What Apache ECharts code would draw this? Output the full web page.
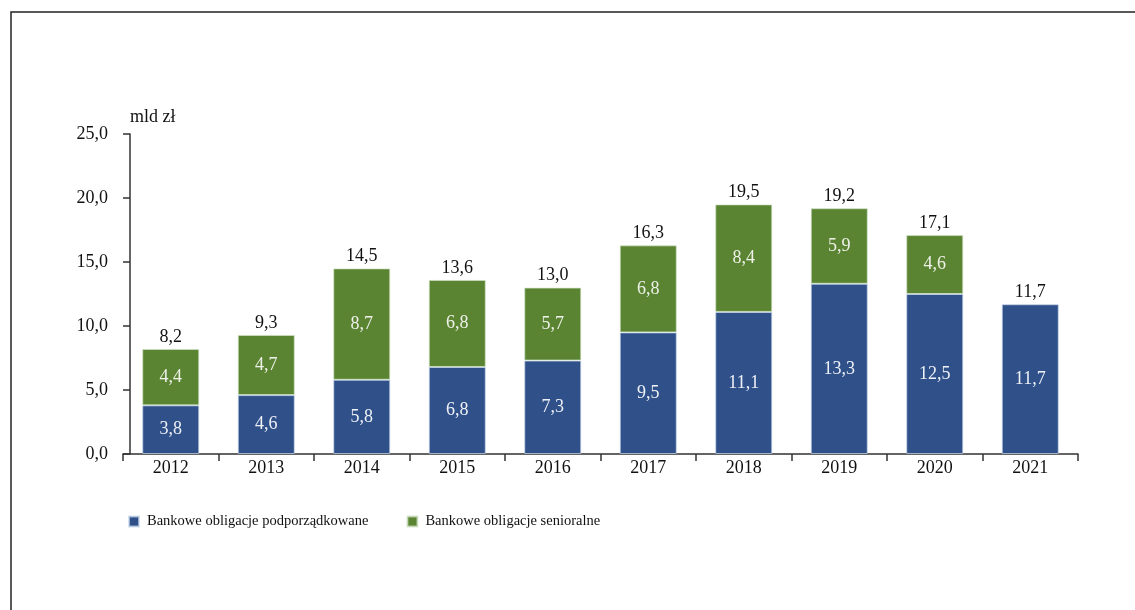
<!DOCTYPE html>
<html>
<head>
<meta charset="utf-8">
<script src="https://cdn.jsdelivr.net/npm/echarts@6/dist/echarts.min.js"></script>
<style>
  html, body { margin: 0; padding: 0; background: #fff; }
  #chart { width: 1135px; height: 610px; }
</style>
</head>
<body>
<div id="chart"></div>
<script>
const years = ['2012','2013','2014','2015','2016','2017','2018','2019','2020','2021'];
const subordinated = [3.8, 4.6, 5.8, 6.8, 7.3, 9.5, 11.1, 13.3, 12.5, 11.7];
const senior = [4.4, 4.7, 8.7, 6.8, 5.7, 6.8, 8.4, 5.9, 4.6, null];
const totals = [8.2, 9.3, 14.5, 13.6, 13.0, 16.3, 19.5, 19.2, 17.1, 11.7];
const yTicks = [0, 5, 10, 15, 20, 25];
const seriesNames = ['Bankowe obligacje podporządkowane', 'Bankowe obligacje senioralne'];
const unitLabel = 'mld zł';

const fmt = v => Number(v).toFixed(1).replace('.', ',');
const FONT = '"Liberation Serif", "DejaVu Serif", serif';

const chart = echarts.init(document.getElementById('chart'), null, { renderer: 'canvas' });
chart.setOption({
  animation: false,
  backgroundColor: '#ffffff',
  textStyle: { fontFamily: FONT },
  graphic: [
    { type: 'polyline', shape: { points: [[11, 610], [11, 12], [1135, 12]] },
      style: { stroke: '#222', lineWidth: 1.5, fill: null } }
  ],
  grid: { left: 123, right: 57, top: 134, bottom: 156, containLabel: false },
  legend: {
    data: seriesNames,
    left: 123, top: 509,
    itemWidth: 10, itemHeight: 10, itemGap: 38,
    icon: 'rect',
    textStyle: { fontFamily: FONT, fontSize: 14.5, color: '#111', padding: [0, 0, 0, 3] },
    selectedMode: false
  },
  xAxis: {
    type: 'category',
    data: years,
    axisLine: { lineStyle: { color: '#333', width: 1.5 } },
    axisTick: { show: true, length: 7, alignWithLabel: false, lineStyle: { color: '#333', width: 1.5 } },
    axisLabel: { color: '#111', fontFamily: FONT, fontSize: 18, margin: 5 }
  },
  yAxis: {
    type: 'value',
    min: yTicks[0], max: yTicks[yTicks.length - 1], interval: 5,
    offset: -7,
    name: unitLabel,
    nameLocation: 'end',
    nameGap: 8,
    nameTextStyle: { color: '#111', fontFamily: FONT, fontSize: 18, align: 'left', padding: [0, 0, 0, 0] },
    splitLine: { show: false },
    axisLine: { show: true, lineStyle: { color: '#333', width: 1.5 } },
    axisTick: { show: true, length: 7, lineStyle: { color: '#333', width: 1.5 } },
    axisLabel: { color: '#111', fontFamily: FONT, fontSize: 18, margin: 22, formatter: v => fmt(v) }
  },
  series: [
    {
      name: seriesNames[0], type: 'bar', stack: 'a', barWidth: 57,
      data: subordinated,
      itemStyle: { color: '#30508a', borderColor: 'rgba(200,215,235,0.7)', borderWidth: 1 },
      label: { show: true, position: 'inside', color: '#eef1f6', fontFamily: FONT, fontSize: 18, formatter: p => fmt(p.value) }
    },
    {
      name: seriesNames[1], type: 'bar', stack: 'a', barWidth: 57,
      data: senior,
      itemStyle: { color: '#5a8431', borderColor: 'rgba(210,225,200,0.7)', borderWidth: 1 },
      label: { show: true, position: 'inside', color: '#eef1ea', fontFamily: FONT, fontSize: 18, formatter: p => fmt(p.value) }
    },
    {
      name: 'total', type: 'bar', barWidth: 57, barGap: '-100%', z: 0,
      data: totals,
      itemStyle: { color: 'rgba(0,0,0,0)' },
      label: { show: true, position: 'top', distance: 3, color: '#111', fontFamily: FONT, fontSize: 18, formatter: p => fmt(p.value) },
      silent: true
    }
  ]
});
</script>
</body>
</html>
